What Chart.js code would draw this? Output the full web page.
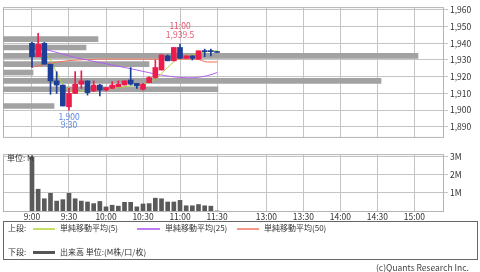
<!DOCTYPE html>
<html>
<head>
<meta charset="utf-8">
<script src="https://cdn.jsdelivr.net/npm/chart.js@4.4.1/dist/chart.umd.min.js"></script>
<style>
body{margin:0;background:#fff;width:480px;height:272px;overflow:hidden;position:relative;font-family:"Noto Sans CJK JP",sans-serif;color:#333}
#top{position:absolute;left:0;top:0}
#bottom{position:absolute;left:0;top:147px}
#legend{position:absolute;left:3px;top:221px;width:475px;height:39px;border:1px solid #666;box-sizing:border-box}
.t{position:absolute;font-size:8px;line-height:10px;white-space:nowrap;color:#333}
.l{position:absolute;height:2px}
#copy{position:absolute;left:376px;top:262px;font-size:8.5px;line-height:11px;color:#444;white-space:nowrap}
</style>
</head>
<body>
<canvas id="top" width="480" height="144"></canvas>
<canvas id="bottom" width="480" height="75"></canvas>
<div id="legend"></div>
<div class="t" style="left:8px;top:223px">上段:</div>
<div class="l" style="left:33px;top:228px;width:22px;background:#c4de6a"></div>
<div class="t" style="left:60px;top:223px">単純移動平均(5)</div>
<div class="l" style="left:137px;top:228px;width:23px;background:#bf7cf2"></div>
<div class="t" style="left:165px;top:223px">単純移動平均(25)</div>
<div class="l" style="left:237px;top:228px;width:22px;background:#f49a86"></div>
<div class="t" style="left:264px;top:223px">単純移動平均(50)</div>
<div class="t" style="left:8px;top:247px">下段:</div>
<div class="l" style="left:33px;top:251px;width:22px;height:3px;background:#555"></div>
<div class="t" style="left:60px;top:247px">出来高 単位:(M株/口/枚)</div>
<div id="copy">(c)Quants Research Inc.</div>
<script>
// 5分足
var times = ['9:00','9:05','9:10','9:15','9:20','9:25','9:30','9:35','9:40','9:45','9:50','9:55',
             '10:00','10:05','10:10','10:15','10:20','10:25','10:30','10:35','10:40','10:45','10:50','10:55',
             '11:00','11:05','11:10','11:15','11:20','11:25','11:30']
var opens  = [1940,1932,1940,1927.5,1917.5,1915,1902,1910,1915.5,1917.5,1911.5,1915,
              1912,1913,1914,1915,1918,1916,1912.5,1916.5,1919.5,1924,1932.5,1929.5,
              1937.5,1931,1932.5,1930.5,1935.5,1935.5,1935]
var highs  = [1940.5,1946,1940.5,1927.5,1923,1915,1913,1923,1923.5,1917.5,1917.5,1915.5,
              1913.5,1917,1917.5,1917.5,1925.5,1916,1916,1920,1930,1933,1933,1937.5,
              1939.5,1932.5,1932.5,1935.5,1936.5,1936.5,1935]
var lows   = [1925.5,1932,1927.5,1909.5,1910,1902.5,1900,1910,1913,1909,1911,1908.5,
              1911.5,1913,1914,1915,1915,1913,1912,1916.5,1919,1924,1929.5,1929.5,
              1931,1931,1930,1930.5,1932,1932.5,1934.5]
var closes = [1932,1939.5,1927.5,1917.5,1915,1902.5,1910,1915.5,1917.5,1910.5,1915,1912,
              1913.5,1915,1915.5,1917.5,1915.5,1914.5,1915.5,1919.5,1925.5,1933,1929.5,1937.5,
              1931,1932.5,1931,1935.5,1935,1935,1934.5]

var ma5  = [1937.5,1937.5,1935.5,1930,1922.5,1915.5,1912,1911,1911.5,1912,1912,1912.5,
            1912.5,1913,1913.5,1914,1914.5,1915,1915.5,1916.5,1918.5,1922,1925.5,1929,
            1931.5,1932.5,1933,1934,1934.7,1935.2,1935.5]
var ma25 = [1937,1937.5,1936.5,1935.5,1934.5,1933.5,1932.5,1931.5,1930.7,1930,1929.2,1928.5,
            1927.8,1927,1926.3,1925.5,1924.8,1924,1923.2,1922.4,1921.6,1921,1920.4,1919.9,
            1919.6,1919.4,1919.4,1919.7,1920.3,1921.2,1922.5]
var ma50 = [1925.7,1926.6,1927.4,1928.1,1928.7,1929.2,1929.6,1929.9,1930.1,1930.3,1930.4,1930.5,
            1930.5,1930.5,1930.5,1930.5,1930.5,1930.5,1930.5,1930.5,1930.5,1930.5,1930.5,1930.5,
            1930.5,1930.5,1930.5,1930.4,1929,1928.8,1928.8]

// 出来高 (M)
var volumes = [3.0,1.21,0.68,0.98,0.55,0.63,0.98,0.68,0.55,0.5,0.41,0.53,
               0.23,0.32,0.27,0.48,0.48,0.23,0.39,0.41,0.71,0.68,0.5,0.5,
               0.59,0.29,0.29,0.36,0.29,0.27,0]

// 価格帯別出来高
var profilePrices  = [1942.5,1937.5,1932.5,1927.5,1922.5,1917.5,1912.5,1902.5]
var profileVolumes = [95,83,415,146,30,378,215,51]

var axisTimes   = ['9:00','9:30','10:00','10:30','11:00','11:30','13:00','13:30','14:00','14:30','15:00']
var priceTicks  = [1890,1900,1910,1920,1930,1940,1950,1960]
var volumeTicks = [1,2,3]

var markTimes  = ['11:00','9:30']
var markPrices = [1939.5,1900]
var markKinds  = ['high','low']

var FONT = '"Noto Sans CJK JP", sans-serif'
var GRID = '#c4c4c4'
var UP = '#ec1c4c'
var DOWN = '#1d3e96'

// 昼休みは詰める
function slot(t) {
    var hm = t.split(':').map(Number)
    var s = (hm[0] * 60 + hm[1] - 540) / 5
    if (hm[0] >= 13) s -= 10
    return s
}
function labelFor(v) {
    for (var i = 0; i < axisTimes.length; i++) {
        if (slot(axisTimes[i]) == v) return axisTimes[i]
    }
    return ''
}

var X_MIN = -4.7, X_MAX = 66.8

var candleColors = opens.map((o, i) => closes[i] >= o ? UP : DOWN)

var frame = {
    id: 'frame',
    beforeDatasetsDraw(chart) {
        var a = chart.chartArea, ctx = chart.ctx
        ctx.save()
        ctx.strokeStyle = '#b4b4b4'
        ctx.lineWidth = 1
        ctx.strokeRect(a.left + 0.5, a.top + 0.5, a.right - a.left - 1, a.bottom - a.top)
        ctx.restore()
    }
}

var marks = {
    id: 'marks',
    afterDatasetsDraw(chart) {
        var ctx = chart.ctx, x = chart.scales.x, y = chart.scales.y
        ctx.save()
        ctx.font = '8.5px ' + FONT
        ctx.textAlign = 'center'
        ctx.textBaseline = 'middle'
        for (var i = 0; i < markTimes.length; i++) {
            var px = x.getPixelForValue(slot(markTimes[i]))
            var py = y.getPixelForValue(markPrices[i])
            var price = markPrices[i].toLocaleString('en-US', {maximumFractionDigits: 1})
            if (markKinds[i] == 'high') {
                ctx.fillStyle = '#e2566c'
                ctx.fillText(markTimes[i], px, py - 18.5)
                ctx.fillText(price, px, py - 9.5)
            } else {
                ctx.fillStyle = '#5a86e2'
                ctx.fillText(price, px, py + 6.5)
                ctx.fillText(markTimes[i], px, py + 15)
            }
        }
        ctx.restore()
    }
}

var unitLabel = {
    id: 'unitLabel',
    afterDatasetsDraw(chart) {
        var ctx = chart.ctx, a = chart.chartArea
        ctx.save()
        ctx.font = '8px ' + FONT
        ctx.fillStyle = '#333'
        ctx.textBaseline = 'middle'
        ctx.fillText('単位: M', a.left + 4, a.top + 3.5)
        ctx.restore()
    }
}

function timeAxis(showLabels) {
    return {
        type: 'linear',
        offset: false,
        min: X_MIN,
        max: X_MAX,
        afterBuildTicks: s => { s.ticks = axisTimes.map(t => ({value: slot(t)})) },
        ticks: {
            display: showLabels,
            autoSkip: false,
            maxRotation: 0,
            padding: 1,
            color: '#333',
            font: {family: FONT, size: 8.5},
            callback: v => labelFor(v)
        },
        grid: {color: GRID, drawTicks: false, offset: false},
        border: {display: false},
        afterFit: s => { s.height = showLabels ? 11 : 0 }
    }
}

new Chart(document.getElementById('top'), {
    data: {
        datasets: [
            {
                type: 'bar',
                data: times.map((t, i) => ({x: slot(t), y: [opens[i], closes[i]]})),
                backgroundColor: candleColors,
                barThickness: 5,
                minBarLength: 1,
                grouped: false,
                order: 1
            },
            {
                type: 'bar',
                data: times.map((t, i) => ({x: slot(t), y: [lows[i], highs[i]]})),
                backgroundColor: candleColors,
                barThickness: 1,
                grouped: false,
                order: 2
            },
            {
                type: 'line',
                data: times.map((t, i) => ({x: slot(t), y: ma5[i]})),
                borderColor: '#b2d23a',
                borderWidth: 1,
                pointRadius: 0,
                tension: 0.3,
                order: 3
            },
            {
                type: 'line',
                data: times.map((t, i) => ({x: slot(t), y: ma25[i]})),
                borderColor: '#b05ef0',
                borderWidth: 1,
                pointRadius: 0,
                tension: 0.3,
                order: 4
            },
            {
                type: 'line',
                data: times.map((t, i) => ({x: slot(t), y: ma50[i]})),
                borderColor: '#f07052',
                borderWidth: 1,
                pointRadius: 0,
                tension: 0.3,
                order: 5
            },
            {
                type: 'bar',
                indexAxis: 'y',
                xAxisID: 'xp',
                yAxisID: 'y',
                data: profilePrices.map((p, i) => ({x: profileVolumes[i], y: p})),
                backgroundColor: '#a2a2a2',
                barThickness: 5,
                grouped: false,
                order: 10
            }
        ]
    },
    options: {
        responsive: false,
        devicePixelRatio: 1,
        animation: false,
        events: [],
        layout: {padding: {left: 3, top: 1, right: 0, bottom: 1}},
        plugins: {legend: {display: false}, tooltip: {enabled: false}},
        scales: {
            x: timeAxis(false),
            xp: {type: 'linear', display: false, offset: false, min: 0, max: 441},
            y: {
                type: 'linear',
                position: 'right',
                offset: false,
                min: 1884,
                max: 1961.64,
                afterBuildTicks: s => { s.ticks = priceTicks.map(v => ({value: v})) },
                ticks: {
                    padding: 2,
                    color: '#333',
                    font: {family: FONT, size: 8.5},
                    callback: v => v.toLocaleString('en-US')
                },
                grid: {color: GRID, tickLength: 4, offset: false},
                border: {display: false},
                afterFit: s => { s.width = 36 }
            }
        }
    },
    plugins: [frame, marks]
})

new Chart(document.getElementById('bottom'), {
    data: {
        datasets: [{
            type: 'bar',
            data: times.map((t, i) => ({x: slot(t), y: volumes[i]})),
            backgroundColor: '#5a5a5a',
            barThickness: 4,
            grouped: false
        }]
    },
    options: {
        responsive: false,
        devicePixelRatio: 1,
        animation: false,
        events: [],
        layout: {padding: {left: 3, top: 5, right: 0, bottom: 0}},
        plugins: {legend: {display: false}, tooltip: {enabled: false}},
        scales: {
            x: timeAxis(true),
            y: {
                type: 'linear',
                position: 'right',
                min: 0,
                max: 3.16,
                afterBuildTicks: s => { s.ticks = volumeTicks.map(v => ({value: v})) },
                ticks: {
                    padding: 2,
                    color: '#333',
                    font: {family: FONT, size: 8.5},
                    callback: v => v + 'M'
                },
                grid: {color: GRID, tickLength: 4},
                border: {display: false},
                afterFit: s => { s.width = 36 }
            }
        }
    },
    plugins: [frame, unitLabel]
})
</script>
</body>
</html>
